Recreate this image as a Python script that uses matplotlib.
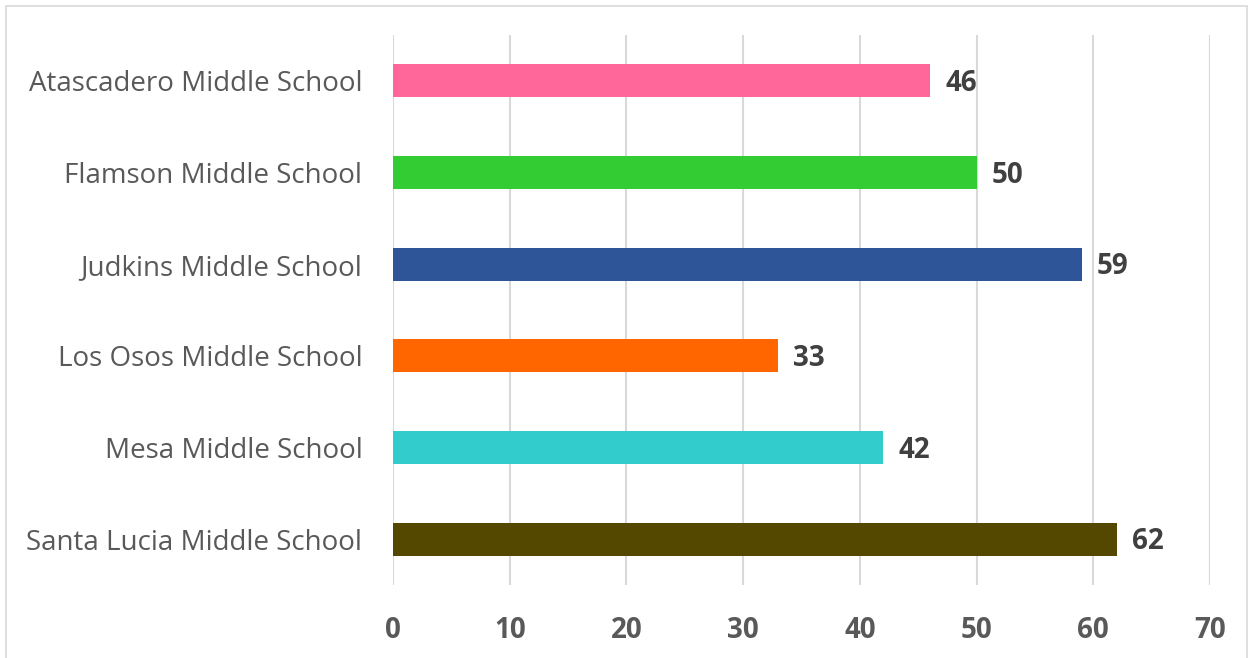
import matplotlib.pyplot as plt
from matplotlib.patches import Rectangle

schools = ['Atascadero Middle School', 'Flamson Middle School', 'Judkins Middle School',
           'Los Osos Middle School', 'Mesa Middle School', 'Santa Lucia Middle School']
counts = [46, 50, 59, 33, 42, 62]
colors = ['#FF6699', '#33CC33', '#2E5597', '#FF6600', '#33CCCC', '#544800']

plt.rcParams['font.family'] = ['Open Sans', 'DejaVu Sans']

fig = plt.figure(figsize=(12.52, 6.58), dpi=100)
ax = fig.add_axes([0.3139, 0.111, 0.6526, 0.8358])

pos = list(range(len(schools)))
ax.barh(pos, counts, height=0.36, color=colors, zorder=3)
for p, v in zip(pos, counts):
    ax.annotate(str(v), (v, p), xytext=(11, -2), textcoords='offset points',
                va='center', ha='left', fontsize=20, fontweight='bold', color='#404040')

ax.set_xlim(0, 70)
ax.set_ylim(len(schools) - 0.5, -0.5)
ax.set_yticks(pos)
ax.set_yticklabels(schools, fontsize=20, color='#595959')
ax.set_xticks(range(0, 71, 10))
ax.tick_params(axis='x', labelsize=20, colors='#595959', length=0, pad=22)
ax.tick_params(axis='y', length=0, pad=22)
for lab in ax.get_xticklabels():
    lab.set_fontweight('bold')
ax.grid(axis='x', color='#d9d9d9', linewidth=1.5, zorder=0)
for s in ax.spines.values():
    s.set_visible(False)

fig.patches.append(Rectangle((6 / 1252, -0.01), 1241 / 1252, 1 - 6 / 658 + 0.01,
                             transform=fig.transFigure, fill=False,
                             edgecolor='#d9d9d9', linewidth=1.2))

fig.savefig('out.png', dpi=100)
